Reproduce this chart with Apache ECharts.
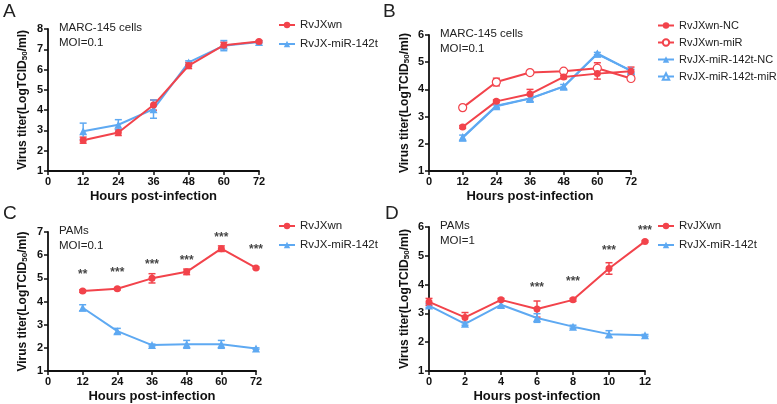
<!DOCTYPE html>
<html><head><meta charset="utf-8">
<script src="https://cdn.jsdelivr.net/npm/echarts@6/dist/echarts.min.js"></script>
<style>html,body{margin:0;padding:0;background:#fff}#c{width:777px;height:404px}</style>
</head><body><div id="c"></div>
<script>
// ---------- data ----------
const hoursAC = [12, 24, 36, 48, 60, 72];
const hoursD = [0, 2, 4, 6, 8, 10, 12];

// Panel A
const aWn = [2.52, 2.9, 4.25, 6.2, 7.2, 7.38];
const aWnErr = [0.15, 0.15, 0.25, 0.15, 0.15, 0.05];
const aMiR = [2.96, 3.28, 4.05, 6.35, 7.18, 7.36];
const aMiRErr = [0.4, 0.25, 0.45, 0.08, 0.25, 0.05];

// Panel B
const bWnNC = [2.62, 3.56, 3.83, 4.46, 4.58, 4.67];
const bWnNCErr = [0.05, 0.05, 0.17, 0.06, 0.2, 0.15];
const bWnMiR = [3.33, 4.27, 4.62, 4.67, 4.78, 4.4];
const bWnMiRErr = [0.04, 0.14, 0.04, 0.04, 0.2, 0.06];
const bMiRNC = [2.22, 3.38, 3.66, 4.1, 5.32, 4.68];
const bMiRNCErr = [0.1, 0.05, 0.13, 0.08, 0.04, 0.06];
const bMiRMiR = [2.24, 3.4, 3.67, 4.11, 5.3, 4.69];
const bMiRMiRErr = [0.05, 0.05, 0.05, 0.05, 0.04, 0.05];

// Panel C
const cWn = [4.45, 4.55, 5.0, 5.28, 6.28, 5.45];
const cWnErr = [0.05, 0.05, 0.2, 0.12, 0.12, 0.04];
const cMiR = [3.73, 2.72, 2.12, 2.15, 2.15, 1.97];
const cMiRErr = [0.13, 0.12, 0.04, 0.17, 0.17, 0.03];
const cStars = ['**', '***', '***', '***', '***', '***'];
const cStarY = [5.15, 5.25, 5.6, 5.78, 6.75, 6.22];

// Panel D
const dWn = [3.4, 2.86, 3.47, 3.15, 3.47, 4.56, 5.5];
const dWnErr = [0.12, 0.17, 0.05, 0.28, 0.05, 0.2, 0.03];
const dMiR = [3.27, 2.64, 3.3, 2.84, 2.54, 2.28, 2.24];
const dMiRErr = [0.06, 0.05, 0.12, 0.15, 0.05, 0.12, 0.03];
const dStars = ['***', '***', '***', '***'];
const dStarHours = [6, 8, 10, 12];
const dStarY = [3.88, 4.1, 5.17, 5.88];

// ---------- styles ----------
const RED = '#f2434b';
const BLUE = '#5ea9f2';
const FONT = 'Liberation Sans, Arial, sans-serif';

function pairs(xs, ys) { return xs.map((x, i) => [x, ys[i]]); }
function errPairs(xs, ys, es) { return xs.map((x, i) => [x, ys[i], es[i]]); }

function errSeries(idx, xs, ys, es, color) {
  return {
    type: 'custom', xAxisIndex: idx, yAxisIndex: idx, silent: true, z: 1,
    data: errPairs(xs, ys, es),
    renderItem: function (params, api) {
      const x = api.value(0), y = api.value(1), e = api.value(2);
      const top = api.coord([x, y + e]);
      const bot = api.coord([x, y - e]);
      const w = 3.5;
      const st = { stroke: color, lineWidth: 1.5 };
      return {
        type: 'group', children: [
          { type: 'line', shape: { x1: top[0], y1: top[1], x2: bot[0], y2: bot[1] }, style: st },
          { type: 'line', shape: { x1: top[0] - w, y1: top[1], x2: top[0] + w, y2: top[1] }, style: st },
          { type: 'line', shape: { x1: bot[0] - w, y1: bot[1], x2: bot[0] + w, y2: bot[1] }, style: st }
        ]
      };
    }
  };
}

function lineSeries(idx, name, xs, ys, color, symbol, open, size) {
  return {
    type: 'line', name: name, xAxisIndex: idx, yAxisIndex: idx, z: 3,
    data: pairs(xs, ys), symbol: symbol, symbolSize: size || 7,
    lineStyle: { color: color, width: 2 },
    itemStyle: open ? { color: '#fff', borderColor: color, borderWidth: 1.2 } : { color: color, borderColor: color, borderWidth: 0 },
    color: color, animation: false
  };
}

function starSeries(idx, xs, ys, labels) {
  return {
    type: 'scatter', xAxisIndex: idx, yAxisIndex: idx, symbolSize: 1, silent: true,
    itemStyle: { color: 'rgba(0,0,0,0)' },
    data: xs.map((x, i) => ({ value: [x, ys[i]], label: { formatter: labels[i] } })),
    label: { show: true, position: 'inside', color: '#111', fontSize: 12, fontWeight: 'bold', fontFamily: FONT },
    animation: false
  };
}

const grids = [
  { left: 48, top: 29, width: 211, height: 142 },
  { left: 429, top: 35, width: 202, height: 136 },
  { left: 48, top: 232, width: 208, height: 139 },
  { left: 429, top: 227, width: 216, height: 144 }
];

function xAxis(idx, max, interval) {
  return {
    type: 'value', gridIndex: idx, min: 0, max: max, interval: interval,
    name: 'Hours post-infection', nameLocation: 'middle', nameGap: 19,
    nameTextStyle: { fontSize: 13, fontWeight: 'bold', color: '#111', fontFamily: FONT },
    axisLine: { show: true, lineStyle: { color: '#111', width: 1.8 } },
    axisTick: { show: true, length: 4, lineStyle: { color: '#111', width: 1.5 } },
    axisLabel: { fontSize: 11, fontWeight: 'bold', color: '#111', margin: 5, fontFamily: FONT },
    splitLine: { show: false }
  };
}
function yAxis(idx, max, gap) {
  return {
    type: 'value', gridIndex: idx, min: 1, max: max, interval: 1,
    name: '{b|Virus titer(LogTCID}{s|50}{b|/ml)}', nameLocation: 'middle', nameGap: gap, nameRotate: 90,
    nameTextStyle: {
      fontFamily: FONT,
      rich: {
        b: { fontSize: 12, fontWeight: 'bold', color: '#111', fontFamily: FONT },
        s: { fontSize: 8, fontWeight: 'bold', color: '#111', fontFamily: FONT, verticalAlign: 'bottom', padding: [5, 0, 0, 0] }
      }
    },
    axisLine: { show: true, lineStyle: { color: '#111', width: 1.8 } },
    axisTick: { show: true, length: 4, lineStyle: { color: '#111', width: 1.5 } },
    axisLabel: { fontSize: 11, fontWeight: 'bold', color: '#111', margin: 5, fontFamily: FONT },
    splitLine: { show: false }
  };
}

function legend(left, top, names, gap, fs) {
  return {
    left: left, top: top, orient: 'vertical', itemWidth: 16, itemHeight: 8, itemGap: gap,
    data: names, selectedMode: false,
    textStyle: { fontSize: fs, color: '#222', fontFamily: FONT }
  };
}

function txt(x, y, s, size, weight) {
  return { type: 'text', left: x, top: y, style: { text: s, fontSize: size, fontWeight: weight || 'normal', fill: '#222', fontFamily: FONT } };
}

const option = {
  animation: false,
  textStyle: { fontFamily: FONT },
  grid: grids,
  xAxis: [xAxis(0, 72, 12), xAxis(1, 72, 12), xAxis(2, 72, 12), xAxis(3, 12, 2)],
  yAxis: [yAxis(0, 8, 19), yAxis(1, 6, 18), yAxis(2, 7, 19), yAxis(3, 6, 18)],
  legend: [
    legend(273, 14, ['RvJXwn', 'RvJX-miR-142t'], 7, 11.5),
    legend(652, 15, ['RvJXwn-NC', 'RvJXwn-miR', 'RvJX-miR-142t-NC', 'RvJX-miR-142t-miR'], 6, 11),
    legend(273, 215, ['RvJXwn', 'RvJX-miR-142t'], 7, 11.5),
    legend(652, 215, ['RvJXwn', 'RvJX-miR-142t'], 7, 11.5)
  ],
  graphic: [
    txt(3, 2, 'A', 19), txt(383, 2, 'B', 19), txt(3, 204, 'C', 19), txt(385, 204, 'D', 19),
    txt(59, 22, 'MARC-145 cells', 11.5), txt(59, 37, 'MOI=0.1', 11.5),
    txt(440, 28, 'MARC-145 cells', 11.5), txt(440, 43, 'MOI=0.1', 11.5),
    txt(59, 225, 'PAMs', 11.5), txt(59, 240, 'MOI=0.1', 11.5),
    txt(440, 220, 'PAMs', 11.5), txt(440, 235, 'MOI=1', 11.5)
  ],
  series: [
    // A
    errSeries(0, hoursAC, aWn, aWnErr, RED),
    errSeries(0, hoursAC, aMiR, aMiRErr, BLUE),
    lineSeries(0, 'RvJX-miR-142t', hoursAC, aMiR, BLUE, 'triangle', false, 8),
    lineSeries(0, 'RvJXwn', hoursAC, aWn, RED, 'circle', false, 7),
    // B
    errSeries(1, hoursAC, bWnNC, bWnNCErr, RED),
    errSeries(1, hoursAC, bWnMiR, bWnMiRErr, RED),
    errSeries(1, hoursAC, bMiRNC, bMiRNCErr, BLUE),
    lineSeries(1, 'RvJX-miR-142t-miR', hoursAC, bMiRMiR, BLUE, 'triangle', true, 6),
    lineSeries(1, 'RvJX-miR-142t-NC', hoursAC, bMiRNC, BLUE, 'triangle', false, 8),
    lineSeries(1, 'RvJXwn-miR', hoursAC, bWnMiR, RED, 'circle', true, 8),
    lineSeries(1, 'RvJXwn-NC', hoursAC, bWnNC, RED, 'circle', false, 7),
    // C
    errSeries(2, hoursAC, cWn, cWnErr, RED),
    errSeries(2, hoursAC, cMiR, cMiRErr, BLUE),
    lineSeries(2, 'RvJXwn', hoursAC, cWn, RED, 'circle', false, 7),
    lineSeries(2, 'RvJX-miR-142t', hoursAC, cMiR, BLUE, 'triangle', false, 8),
    starSeries(2, hoursAC, cStarY, cStars),
    // D
    errSeries(3, hoursD, dWn, dWnErr, RED),
    errSeries(3, hoursD, dMiR, dMiRErr, BLUE),
    lineSeries(3, 'RvJX-miR-142t', hoursD, dMiR, BLUE, 'triangle', false, 8),
    lineSeries(3, 'RvJXwn', hoursD, dWn, RED, 'circle', false, 7),
    starSeries(3, dStarHours, dStarY, dStars)
  ]
};
const chart = echarts.init(document.getElementById('c'), null, { renderer: 'canvas' });
chart.setOption(option);
</script></body></html>
